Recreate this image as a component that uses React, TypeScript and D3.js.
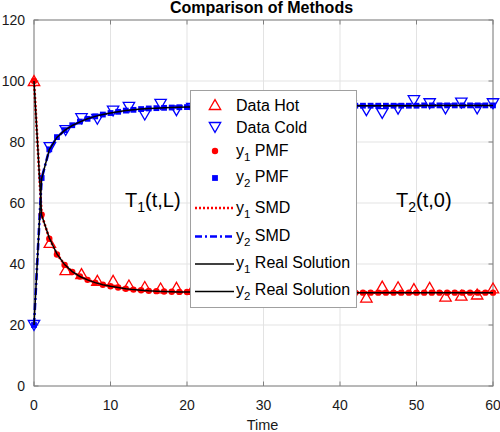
import React from 'react';
import * as d3 from 'd3';

// ---------- data ----------
const timeGrid = [0,1,2,3,4,5,6,7,8,9,10,11,12,13,14,15,16,17,18,19,20,21,22,23,24,25,26,27,28,29,30,31,32,33,34,35,36,37,38,39,40,41,42,43,44,45,46,47,48,49,50,51,52,53,54,55,56,57,58,59,60];

const y1Real = [100,56.0,48.5,43.3,39.8,37.5,35.9,34.8,33.9,33.2,32.7,32.3,31.9,31.6,31.4,31.2,31.1,31.0,30.9,30.85,30.8,30.78,30.75,30.72,30.7,30.68,30.66,30.65,30.64,30.63,30.62,30.6,30.6,30.6,30.6,30.6,30.6,30.6,30.6,30.6,30.6,30.6,30.6,30.6,30.6,30.6,30.6,30.6,30.6,30.6,30.6,30.6,30.6,30.6,30.6,30.6,30.6,30.6,30.6,30.6,30.6];
const y2Real = [20,68.0,77.5,81.5,83.8,85.4,86.6,87.6,88.4,89.0,89.5,89.9,90.3,90.55,90.8,91.0,91.1,91.2,91.3,91.4,91.45,91.5,91.55,91.6,91.65,91.7,91.72,91.75,91.78,91.8,91.82,91.85,91.85,91.85,91.85,91.85,91.85,91.85,91.85,91.85,91.85,91.9,91.9,91.9,91.9,91.9,91.9,91.9,91.9,91.9,91.9,92.0,92.0,92.0,92.0,92.0,92.0,92.0,92.0,92.0,92.0];
const y1Pmf = [100,56.2,48.3,43.1,39.7,37.4,35.9,34.8,33.9,33.2,32.7,32.3,31.9,31.6,31.4,31.2,31.1,31.0,30.9,30.85,30.8,30.78,30.75,30.72,30.7,30.68,30.66,30.65,30.64,30.63,30.62,30.6,30.6,30.6,30.6,30.6,30.6,30.6,30.6,30.6,30.6,30.6,30.6,30.6,30.6,30.6,30.6,30.6,30.6,30.6,30.6,30.6,30.6,30.6,30.6,30.6,30.6,30.6,30.6,30.6,30.6];
const y2Pmf = [20,68.2,77.6,81.6,83.9,85.5,86.7,87.6,88.4,89.0,89.5,89.9,90.3,90.55,90.8,91.0,91.1,91.2,91.3,91.4,91.45,91.5,91.55,91.6,91.65,91.7,91.72,91.75,91.78,91.8,91.82,91.85,91.85,91.85,91.85,91.85,91.85,91.85,91.85,91.85,91.85,91.9,91.9,91.9,91.9,91.9,91.9,91.9,91.9,91.9,91.9,92.0,92.0,92.0,92.0,92.0,92.0,92.0,92.0,92.0,92.0];
const y1Smd = [100,56.1,48.4,43.2,39.8,37.5,35.9,34.8,33.9,33.2,32.7,32.3,31.9,31.6,31.4,31.2,31.1,31.0,30.9,30.85,30.8,30.78,30.75,30.72,30.7,30.68,30.66,30.65,30.64,30.63,30.62,30.6,30.6,30.6,30.6,30.6,30.6,30.6,30.6,30.6,30.6,30.6,30.6,30.6,30.6,30.6,30.6,30.6,30.6,30.6,30.6,30.6,30.6,30.6,30.6,30.6,30.6,30.6,30.6,30.6,30.6];
const y2Smd = [20,68.1,77.5,81.5,83.8,85.4,86.6,87.6,88.4,89.0,89.5,89.9,90.3,90.55,90.8,91.0,91.1,91.2,91.3,91.4,91.45,91.5,91.55,91.6,91.65,91.7,91.72,91.75,91.78,91.8,91.82,91.85,91.85,91.85,91.85,91.85,91.85,91.85,91.85,91.85,91.85,91.9,91.9,91.9,91.9,91.9,91.9,91.9,91.9,91.9,91.9,92.0,92.0,92.0,92.0,92.0,92.0,92.0,92.0,92.0,92.0];

const dataTime = [0,2.07,4.14,6.21,8.28,10.34,12.41,14.48,16.55,18.62,20.69,22.76,24.83,26.9,28.97,31.03,33.1,35.17,37.24,39.31,41.38,43.45,45.52,47.59,49.66,51.72,53.79,55.86,57.93,60];
const dataHot = [100,46.9,38.0,36.7,34.5,34.5,33.0,32.5,32.0,32.2,31.5,30.2,31.8,30.9,29.8,31.4,30.5,31.9,30.1,30.8,31.2,29.0,32.6,32.4,31.8,32.2,29.3,29.6,30.0,32.0];
const dataCold = [20,78.3,83.9,87.8,87.6,90.3,91.5,89.0,92.5,90.4,91.2,92.8,90.9,91.6,93.0,91.1,92.3,90.7,92.6,91.5,92.0,90.4,89.5,90.9,93.7,92.7,91.0,92.9,91.0,92.7];

const xTicks = [0,10,20,30,40,50,60];
const yTicks = [0,20,40,60,80,100,120];

const titleText = 'Comparison of Methods';
const xLabel = 'Time';
const legendNames = ['Data Hot','Data Cold','PMF','PMF','SMD','SMD','Real Solution','Real Solution'];
const legendSubs = ['', '', '1', '2', '1', '2', '1', '2'];

// ---------- layout ----------
const W = 500, H = 432;
const L = 34, R = 493, T = 20, B = 386;
const FONT = "'Liberation Sans', Arial, Helvetica, sans-serif";
const RED = '#ff0000';
const BLUE = '#0000ff';

const x = d3.scaleLinear().domain([0, 60]).range([L, R]);
const y = d3.scaleLinear().domain([0, 120]).range([B, T]);

const lineOf = (ys: number[]) =>
  d3.line<number>().x((_, i) => x(timeGrid[i])).y((v) => y(v))(ys) || '';

const triUp = (cx: number, cy: number) =>
  `M${cx},${cy - 5.4}L${cx + 5.7},${cy + 4.5}L${cx - 5.7},${cy + 4.5}Z`;
const triDown = (cx: number, cy: number) =>
  `M${cx},${cy + 5.4}L${cx + 5.7},${cy - 4.5}L${cx - 5.7},${cy - 4.5}Z`;

const legendTextY = [105, 127, 150, 176, 207, 235, 262, 289];
const legendMarkY = [105, 127, 151, 178, 208, 236.5, 264, 291.5];

export default function App() {
  const axisColor = '#808080';
  const gridColor = '#e3e3e3';
  const textColor = '#1a1a1a';
  return (
    <svg width={W} height={H} style={{ position: 'absolute', left: 0, top: 0, background: '#fff' }} fontFamily={FONT}>
      <rect x={0} y={0} width={W} height={H} fill="#fff" />
      {/* grid */}
      {xTicks.map((t) => (
        <line key={'gx' + t} x1={x(t)} x2={x(t)} y1={T} y2={B} stroke={gridColor} strokeWidth={1} />
      ))}
      {yTicks.map((t) => (
        <line key={'gy' + t} x1={L} x2={R} y1={y(t)} y2={y(t)} stroke={gridColor} strokeWidth={1} />
      ))}
      {/* axes box */}
      <rect x={L} y={T} width={R - L} height={B - T} fill="none" stroke={axisColor} strokeWidth={1} />
      {xTicks.map((t) => (
        <g key={'tx' + t}>
          <line x1={x(t)} x2={x(t)} y1={B} y2={B - 4.5} stroke={axisColor} />
          <line x1={x(t)} x2={x(t)} y1={T} y2={T + 4.5} stroke={axisColor} />
          <text x={x(t)} y={410} fontSize={14} textAnchor="middle" fill={textColor}>{t}</text>
        </g>
      ))}
      {yTicks.map((t) => (
        <g key={'ty' + t}>
          <line x1={L} x2={L + 4.5} y1={y(t)} y2={y(t)} stroke={axisColor} />
          <line x1={R} x2={R - 4.5} y1={y(t)} y2={y(t)} stroke={axisColor} />
          <text x={25} y={y(t)} dy="0.36em" fontSize={14} textAnchor="end" fill={textColor}>{t}</text>
        </g>
      ))}
      <text x={(L + R) / 2 - 2} y={13} fontSize={16} fontWeight="bold" textAnchor="middle" fill="#000">{titleText}</text>
      <text x={(L + R) / 2 - 1} y={430} fontSize={14.5} textAnchor="middle" fill={textColor}>{xLabel}</text>

      {/* data markers */}
      {dataTime.map((t, i) => (
        <path key={'dh' + i} d={triUp(x(t), y(dataHot[i]))} fill="none" stroke={RED} strokeWidth={1.3} />
      ))}
      {dataTime.map((t, i) => (
        <path key={'dc' + i} d={triDown(x(t), y(dataCold[i]))} fill="none" stroke={BLUE} strokeWidth={1.3} />
      ))}
      {/* PMF */}
      {timeGrid.map((t, i) => (
        <circle key={'p1' + i} cx={x(t)} cy={y(y1Pmf[i])} r={3.2} fill={RED} />
      ))}
      {timeGrid.map((t, i) => (
        <rect key={'p2' + i} x={x(t) - 2.9} y={y(y2Pmf[i]) - 2.9} width={5.8} height={5.8} fill={BLUE} />
      ))}
      {/* SMD */}
      <path d={lineOf(y1Smd)} fill="none" stroke={RED} strokeWidth={2.6} strokeDasharray="2,2" />
      <path d={lineOf(y2Smd)} fill="none" stroke={BLUE} strokeWidth={2.6} strokeDasharray="7,3,2,3" />
      {/* Real */}
      <path d={lineOf(y1Real)} fill="none" stroke="#000" strokeWidth={1.5} />
      <path d={lineOf(y2Real)} fill="none" stroke="#000" strokeWidth={1.5} />

      {/* annotations */}
      <text x={125} y={207} fontSize={20} fill="#000">
        T<tspan fontSize={14} dy={5}>1</tspan><tspan dy={-5}>(t,L)</tspan>
      </text>
      <text x={396} y={207} fontSize={20} fill="#000">
        T<tspan fontSize={14} dy={5}>2</tspan><tspan dy={-5}>(t,0)</tspan>
      </text>

      {/* legend */}
      <rect x={190.5} y={90.5} width={166} height={217} fill="#fff" stroke="#a0a0a0" strokeWidth={1} />
      {legendNames.map((name, i) => {
        const ty = legendTextY[i];
        const my = legendMarkY[i];
        const mx = 215;
        let sample: React.ReactNode = null;
        if (i === 0) sample = <path d={triUp(mx, my)} fill="none" stroke={RED} strokeWidth={1.3} />;
        else if (i === 1) sample = <path d={triDown(mx, my)} fill="none" stroke={BLUE} strokeWidth={1.3} />;
        else if (i === 2) sample = <circle cx={mx} cy={my} r={3.2} fill={RED} />;
        else if (i === 3) sample = <rect x={mx - 2.9} y={my - 2.9} width={5.8} height={5.8} fill={BLUE} />;
        else if (i === 4) sample = <line x1={195} x2={234} y1={my} y2={my} stroke={RED} strokeWidth={2.6} strokeDasharray="2,2" />;
        else if (i === 5) sample = <line x1={195} x2={234} y1={my} y2={my} stroke={BLUE} strokeWidth={2.6} strokeDasharray="7,3,2,3" />;
        else sample = <line x1={195} x2={234} y1={my} y2={my} stroke="#000" strokeWidth={1.3} />;
        const sub = legendSubs[i];
        return (
          <g key={'lg' + i}>
            {sample}
            <text x={236} y={ty} dy="0.36em" fontSize={16} fill="#000">
              {sub ? (
                <>
                  y<tspan fontSize={11.5} dy={5}>{sub}</tspan>
                  <tspan dy={-5}>{' ' + name}</tspan>
                </>
              ) : (
                name
              )}
            </text>
          </g>
        );
      })}
    </svg>
  );
}
